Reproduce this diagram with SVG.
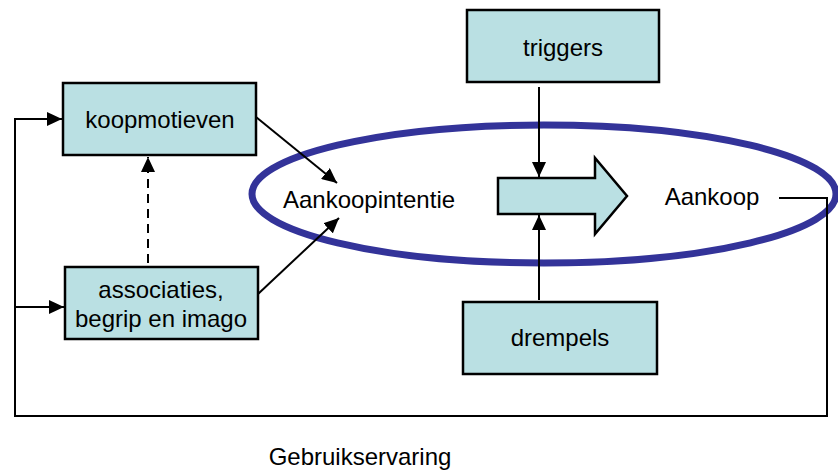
<svg xmlns="http://www.w3.org/2000/svg" width="838" height="473" viewBox="0 0 838 473">
<defs>
<style>
.box{fill:#BAE0E3;stroke:#000;stroke-width:2.5}
.t{font-family:"Liberation Sans",Arial,sans-serif;font-size:24px;fill:#000}
.c{text-anchor:middle}
.ln{fill:none;stroke:#000;stroke-width:2}
</style>
<marker id="ah" markerUnits="userSpaceOnUse" markerWidth="16" markerHeight="14" refX="15" refY="7" orient="auto">
<path d="M0,0 L15,7 L0,14 z" fill="#000"/>
</marker>
</defs>
<rect width="838" height="473" fill="#fff"/>
<ellipse cx="544" cy="194" rx="292" ry="69" fill="none" stroke="#333399" stroke-width="7"/>
<g id="connectors">
<path class="ln" d="M779,198 H827 V416 H15 V119 H62" marker-end="url(#ah)"/>
<path class="ln" d="M15,307 H64" marker-end="url(#ah)"/>
<path class="ln" d="M148,263 V157" stroke-dasharray="9,6" marker-end="url(#ah)"/>
<path class="ln" d="M256,117 L337,183" marker-end="url(#ah)"/>
<path class="ln" d="M258,294 L339,218" marker-end="url(#ah)"/>
<path class="ln" d="M539,87 V177" marker-end="url(#ah)"/>
<path class="ln" d="M539,300 V215" marker-end="url(#ah)"/>
</g>
<g id="koopmotieven"><rect class="box" x="63" y="83" width="193" height="72"/><text class="t c" x="160" y="128">koopmotieven</text></g>
<g id="associaties"><rect class="box" x="65" y="267" width="193" height="72"/><text class="t c" x="161" y="298">associaties,</text><text class="t c" x="161" y="327">begrip en imago</text></g>
<g id="triggers"><rect class="box" x="467" y="10" width="192" height="72"/><text class="t c" x="563" y="56">triggers</text></g>
<g id="drempels"><rect class="box" x="463" y="302" width="194" height="72"/><text class="t c" x="560" y="346">drempels</text></g>
<g id="pijl"><path class="box" d="M498,178 H595 V158 L627,196 L595,234 V214 H498 z"/></g>
<g id="aankoopintentie"><text class="t c" x="369" y="208">Aankoopintentie</text></g>
<g id="aankoop"><text class="t c" x="712" y="205">Aankoop</text></g>
<g id="gebruikservaring"><text class="t c" x="360" y="465">Gebruikservaring</text></g>
</svg>
